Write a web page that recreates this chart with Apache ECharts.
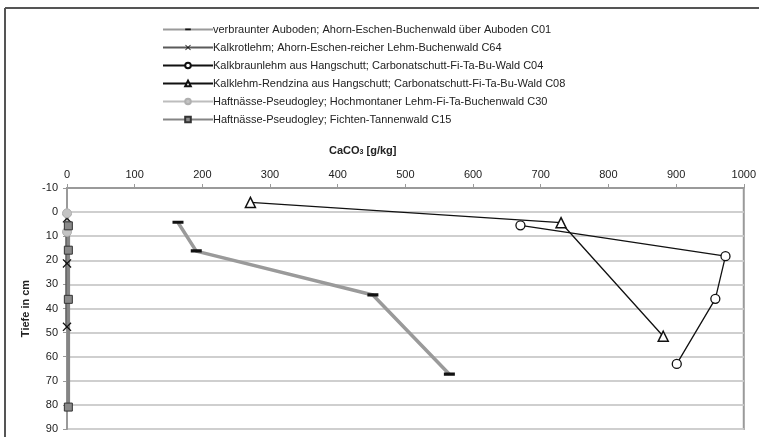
<!DOCTYPE html>
<html>
<head>
<meta charset="utf-8">
<script src="https://cdn.jsdelivr.net/npm/echarts@6/dist/echarts.min.js"></script>
<style>
  html, body { margin: 0; padding: 0; background: #fff; }
  #chart { width: 759px; height: 437px; }
</style>
</head>
<body>
<div id="chart"></div>
<script>
// CaCO3 content [g/kg] per profile and sampling depth [cm]
const seriesNames = [
  'verbraunter Auboden; Ahorn-Eschen-Buchenwald über Auboden C01',
  'Kalkrotlehm; Ahorn-Eschen-reicher Lehm-Buchenwald C64',
  'Kalkbraunlehm aus Hangschutt; Carbonatschutt-Fi-Ta-Bu-Wald C04',
  'Kalklehm-Rendzina aus Hangschutt; Carbonatschutt-Fi-Ta-Bu-Wald C08',
  'Haftnässe-Pseudogley; Hochmontaner Lehm-Fi-Ta-Buchenwald C30',
  'Haftnässe-Pseudogley; Fichten-Tannenwald C15'
];

const c01Caco3 = [164, 191, 452, 565];
const c01Depth = [4.3, 16.2, 34.4, 67.3];

const c64Caco3 = [0, 0, 0];
const c64Depth = [2.6, 21.3, 47.6];

const c04Caco3 = [670, 973, 958, 901];
const c04Depth = [5.5, 18.3, 36, 63];

const c08Caco3 = [271, 730, 881];
const c08Depth = [-4, 4.4, 51.5];

const c30Caco3 = [0, 0];
const c30Depth = [0.5, 8.2];

const c15Caco3 = [2, 2, 2, 2];
const c15Depth = [5.7, 15.8, 36.2, 80.9];

const xTicks = { min: 0, max: 1000, step: 100 };
const yTicks = { min: -10, max: 90, step: 10 };

function pairs(xs, ys) {
  return xs.map((x, i) => [x, ys[i]]);
}

// marker shapes: short horizontal bar and a filled cross
const dashPath = 'path://M0,4H12V7.5H0Z M0,0H0.01V0.01H0Z M0,11.99H0.01V12H0Z';
const crossPath = 'path://M0,1L1,0L5,4L9,0L10,1L6,5L10,9L9,10L5,6L1,10L0,9L4,5Z';
const font = '"Liberation Sans", Arial, sans-serif';

const chart = echarts.init(document.getElementById('chart'), null, { renderer: 'canvas' });

chart.setOption({
  backgroundColor: '#fff',
  animation: false,
  textStyle: { fontFamily: font },
  grid: { left: 67, right: 15, top: 188, bottom: 8, show: true, borderColor: '#9a9a9a', borderWidth: 2, backgroundColor: '#fff' },
  legend: {
    orient: 'vertical',
    left: 157,
    top: 19,
    itemWidth: 50,
    itemHeight: 7,
    itemGap: 7,
    textStyle: { fontSize: 11, color: '#222', fontFamily: font, padding: [0, 0, 0, -5] },
    data: seriesNames
  },
  xAxis: {
    type: 'value',
    position: 'top',
    min: xTicks.min,
    max: xTicks.max,
    interval: xTicks.step,
    axisLine: { show: true, onZero: false, lineStyle: { color: '#9a9a9a', width: 2 } },
    axisTick: { show: true, length: 4, lineStyle: { color: '#9a9a9a', width: 1 } },
    axisLabel: { fontSize: 11, color: '#222', margin: 8, fontFamily: font, formatter: v => String(v) },
    splitLine: { show: false }
  },
  yAxis: {
    type: 'value',
    inverse: true,
    min: yTicks.min,
    max: yTicks.max,
    interval: yTicks.step,
    name: 'Tiefe in cm',
    nameLocation: 'middle',
    nameRotate: 90,
    nameGap: 27,
    nameTextStyle: { fontSize: 11, fontWeight: 'bold', color: '#222', fontFamily: font },
    axisLine: { show: true, onZero: false, lineStyle: { color: '#9a9a9a', width: 2 } },
    axisTick: { show: true, length: 4, lineStyle: { color: '#9a9a9a', width: 1 } },
    axisLabel: { fontSize: 11, color: '#222', margin: 9, fontFamily: font },
    splitLine: { show: true, lineStyle: { color: '#cfcfcf', width: 2 } }
  },
  graphic: [
    { type: 'line', shape: { x1: 5, y1: 8, x2: 759, y2: 8 }, style: { stroke: '#555', lineWidth: 2 } },
    { type: 'line', shape: { x1: 5, y1: 8, x2: 5, y2: 437 }, style: { stroke: '#555', lineWidth: 2 } },
    {
      type: 'text', left: 329, top: 145,
      style: {
        text: '{a|CaCO}{s|3}{a| [g/kg]}',
        rich: {
          a: { fontSize: 11, fontWeight: 'bold', fill: '#222', fontFamily: font },
          s: { fontSize: 7, fontWeight: 'bold', fill: '#222', fontFamily: font, verticalAlign: 'bottom', padding: [4, 0, 0, 0] }
        }
      }
    }
  ],
  series: [
    {
      name: seriesNames[0], type: 'line', data: pairs(c01Caco3, c01Depth),
      lineStyle: { color: '#9a9a9a', width: 3.5 },
      symbol: dashPath, symbolSize: 11, symbolKeepAspect: true,
      itemStyle: { color: '#111', borderWidth: 0 }
    },
    {
      name: seriesNames[1], type: 'line', data: pairs(c64Caco3, c64Depth),
      lineStyle: { color: '#5a5a5a', width: 3.5 },
      symbol: crossPath, symbolSize: 9,
      itemStyle: { color: '#111', borderWidth: 0 }
    },
    {
      name: seriesNames[2], type: 'line', data: pairs(c04Caco3, c04Depth),
      lineStyle: { color: '#111', width: 1.3 },
      symbol: 'circle', symbolSize: 9,
      itemStyle: { color: '#fff', borderColor: '#111', borderWidth: 1.3 }
    },
    {
      name: seriesNames[3], type: 'line', data: pairs(c08Caco3, c08Depth),
      lineStyle: { color: '#111', width: 1.3 },
      symbol: 'triangle', symbolSize: 10,
      itemStyle: { color: '#fff', borderColor: '#111', borderWidth: 1.5 }
    },
    {
      name: seriesNames[4], type: 'line', data: pairs(c30Caco3, c30Depth),
      lineStyle: { color: '#bdbdbd', width: 3.5 },
      symbol: 'circle', symbolSize: 9,
      itemStyle: { color: '#c4c4c4', borderColor: '#b0b0b0', borderWidth: 1 }
    },
    {
      name: seriesNames[5], type: 'line', data: pairs(c15Caco3, c15Depth),
      lineStyle: { color: '#858585', width: 3.5 },
      symbol: 'rect', symbolSize: 8,
      itemStyle: { color: '#8a8a8a', borderColor: '#333', borderWidth: 1 }
    }
  ]
});
</script>
</body>
</html>
